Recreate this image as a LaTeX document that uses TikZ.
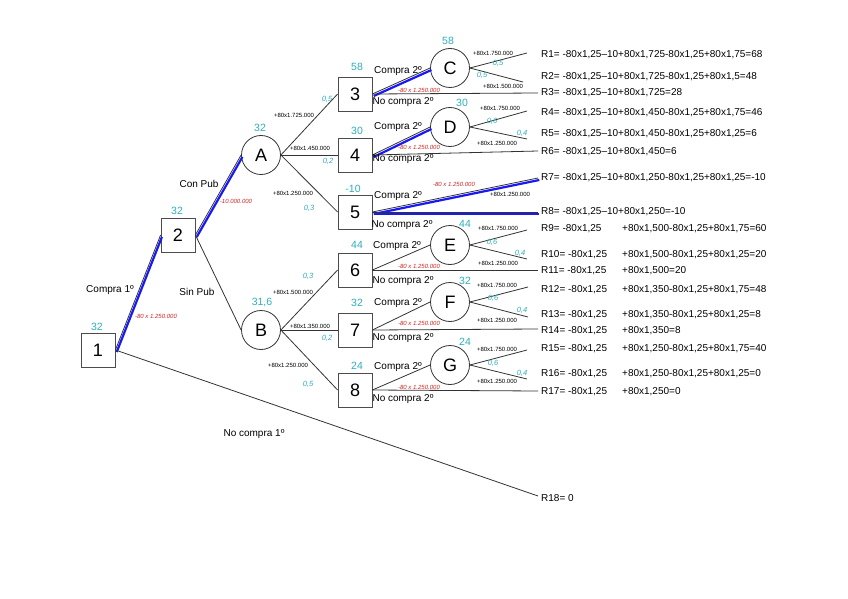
\documentclass[tikz,border=0pt]{standalone}
\usepackage{fontspec}
\setmainfont{Liberation Sans}
\usepackage{tikz}
\definecolor{tealc}{RGB}{45,175,185}
\definecolor{costred}{RGB}{205,35,35}
\definecolor{optblue}{RGB}{25,25,245}
\newcommand{\rsplit}[2]{\makebox[81pt][l]{#1}#2}

\begin{document}
\begin{tikzpicture}[x=1pt, y=-1pt,
  sq/.style={rectangle, draw=black!70, line width=0.8pt, minimum size=34pt, inner sep=0pt, font=\fontsize{18}{18}\selectfont},
  ch/.style={circle, draw=black!80, line width=0.8pt, minimum size=39pt, inner sep=0pt, font=\fontsize{18}{18}\selectfont},
  ln/.style={draw=black!80, line width=0.8pt},
  opt/.style={draw=optblue, line width=2.2pt, transform canvas={xshift=1.3pt, yshift=-2pt}},
  val/.style={text=tealc, inner sep=1pt, font=\fontsize{10.5}{12}\selectfont},
  prob/.style={text=tealc, inner sep=1pt, font=\fontsize{7.5}{8}\selectfont\itshape},
  pay/.style={inner sep=1pt, font=\fontsize{6}{7}\selectfont},
  cost/.style={text=costred, inner sep=1pt, font=\fontsize{6}{7}\selectfont\itshape},
  lbl/.style={inner sep=1pt, font=\fontsize{10}{11}\selectfont},
  res/.style={anchor=west, inner sep=1pt, font=\fontsize{10}{11}\selectfont}]
  \useasboundingbox (0,0) rectangle (848,599);

  % decision and chance nodes
  \node (b1) [sq] at (98,350) {1};
  \node (b2) [sq] at (178,235) {2};
  \node (A) [ch] at (261,155) {A};
  \node (B) [ch] at (261,330) {B};
  \node (b3) [sq] at (355,94) {3};
  \node (b4) [sq] at (355,155) {4};
  \node (b5) [sq] at (355,212) {5};
  \node (b6) [sq] at (355,270) {6};
  \node (b7) [sq] at (355,330) {7};
  \node (b8) [sq] at (355,390) {8};
  \node (C) [ch] at (450,68) {C};
  \node (D) [ch] at (450,127) {D};
  \node (E) [ch] at (450,245) {E};
  \node (F) [ch] at (450,302) {F};
  \node (G) [ch] at (450,365) {G};

  % expected values
  \node (v1) [val] at (97,327) {32};
  \node (v2) [val] at (177,211) {32};
  \node (vA) [val] at (260,128) {32};
  \node (vB) [val] at (262,303) {31,6};
  \node (v3) [val] at (357,67) {58};
  \node (v4) [val] at (357,131) {30};
  \node (v5) [val] at (353,189) {-10};
  \node (v6) [val] at (357,245) {44};
  \node (v7) [val] at (357,303) {32};
  \node (v8) [val] at (357,366) {24};
  \node (vC) [val] at (448,41) {58};
  \node (vD) [val] at (462,103) {30};
  \node (vE) [val] at (465,224) {44};
  \node (vF) [val] at (465,281) {32};
  \node (vG) [val] at (465,342) {24};

  % ends of the branches
  \coordinate (e1) at (527,53);
  \coordinate (e2) at (523,82);
  \coordinate (e3) at (538,93);
  \coordinate (e4) at (527,111);
  \coordinate (e5) at (527,139);
  \coordinate (e6) at (538,151);
  \coordinate (e7) at (538,178);
  \coordinate (e8) at (538,212);
  \coordinate (e9) at (527,230);
  \coordinate (e10) at (527,259);
  \coordinate (e11) at (538,270);
  \coordinate (e12) at (528,287);
  \coordinate (e13) at (528,317);
  \coordinate (e14) at (538,329);
  \coordinate (e15) at (527,350);
  \coordinate (e16) at (527,379);
  \coordinate (e17) at (538,391);
  \coordinate (e18) at (538,496);

  % results
  \node (r1) [res] at (540,55) {R1= -80x1,25–10+80x1,725-80x1,25+80x1,75=68};
  \node (r2) [res] at (540,77) {R2= -80x1,25–10+80x1,725-80x1,25+80x1,5=48};
  \node (r3) [res] at (540,93) {R3= -80x1,25–10+80x1,725=28};
  \node (r4) [res] at (540,113) {R4= -80x1,25–10+80x1,450-80x1,25+80x1,75=46};
  \node (r5) [res] at (540,134) {R5= -80x1,25–10+80x1,450-80x1,25+80x1,25=6};
  \node (r6) [res] at (540,152) {R6= -80x1,25–10+80x1,450=6};
  \node (r7) [res] at (540,178) {R7= -80x1,25–10+80x1,250-80x1,25+80x1,25=-10};
  \node (r8) [res] at (540,212) {R8= -80x1,25–10+80x1,250=-10};
  \node (r9) [res] at (540,229) {\rsplit{R9= -80x1,25}{+80x1,500-80x1,25+80x1,75=60}};
  \node (r10) [res] at (540,255) {\rsplit{R10= -80x1,25}{+80x1,500-80x1,25+80x1,25=20}};
  \node (r11) [res] at (540,271) {\rsplit{R11= -80x1,25}{+80x1,500=20}};
  \node (r12) [res] at (540,290) {\rsplit{R12= -80x1,25}{+80x1,350-80x1,25+80x1,75=48}};
  \node (r13) [res] at (540,315) {\rsplit{R13= -80x1,25}{+80x1,350-80x1,25+80x1,25=8}};
  \node (r14) [res] at (540,331) {\rsplit{R14= -80x1,25}{+80x1,350=8}};
  \node (r15) [res] at (540,349) {\rsplit{R15= -80x1,25}{+80x1,250-80x1,25+80x1,75=40}};
  \node (r16) [res] at (540,374) {\rsplit{R16= -80x1,25}{+80x1,250-80x1,25+80x1,25=0}};
  \node (r17) [res] at (540,392) {\rsplit{R17= -80x1,25}{+80x1,250=0}};
  \node (r18) [res] at (540,498) {R18= 0};

  % first decision
  \draw[ln] (b1.east) -- (b2.west);
  \draw[opt] (b1.east) -- (b2.west);
  \draw[ln] (b1.east) -- (e18);
  \node (t1) [lbl] at (110,290) {Compra 1º};
  \node (c1) [cost] at (156,316) {-80 x 1.250.000};
  \node (t2) [lbl] at (254,434) {No compra 1º};

  % publicity
  \draw[ln] (b2.east) -- (A.west);
  \draw[opt] (b2.east) -- (A.west);
  \draw[ln] (b2.east) -- (B.west);
  \node (t3) [lbl] at (199,184) {Con Pub};
  \node (c2) [cost] at (236,201) {-10.000.000};
  \node (t4) [lbl] at (197,292) {Sin Pub};

  % demand with publicity
  \draw[ln] (A.east) -- (b3.west);
  \draw[ln] (A.east) -- (b4.west);
  \draw[ln] (A.east) -- (b5.west);
  \node (pa1) [pay] at (294,115) {+80x1.725.000};
  \node (qa1) [prob] at (327,99) {0,5};
  \node (pa2) [pay] at (310,148) {+80x1.450.000};
  \node (qa2) [prob] at (328,161) {0,2};
  \node (pa3) [pay] at (293,193) {+80x1.250.000};
  \node (qa3) [prob] at (309,208) {0,3};

  % demand without publicity
  \draw[ln] (B.east) -- (b6.west);
  \draw[ln] (B.east) -- (b7.west);
  \draw[ln] (B.east) -- (b8.west);
  \node (pb1) [pay] at (293,292) {+80x1.500.000};
  \node (qb1) [prob] at (308,276) {0,3};
  \node (pb2) [pay] at (310,326) {+80x1.350.000};
  \node (qb2) [prob] at (327,338) {0,2};
  \node (pb3) [pay] at (288,365) {+80x1.250.000};
  \node (qb3) [prob] at (308,384) {0,5};

  % second decisions
  \draw[ln] (b3.east) -- (C.west);
  \draw[opt] (b3.east) -- (C.west);
  \draw[ln] (b3.east) -- (e3);
  \draw[ln] (b4.east) -- (D.west);
  \draw[opt] (b4.east) -- (D.west);
  \draw[ln] (b4.east) -- (e6);
  \draw[ln] (b5.east) -- (e7);
  \draw[opt] (b5.east) -- (e7);
  \draw[ln] (b5.east) -- (e8);
  \draw[opt] (b5.east) -- (e8);
  \draw[ln] (b6.east) -- (E.west);
  \draw[ln] (b6.east) -- (e11);
  \draw[ln] (b7.east) -- (F.west);
  \draw[ln] (b7.east) -- (e14);
  \draw[ln] (b8.east) -- (G.west);
  \draw[ln] (b8.east) -- (e17);
  \node (s3) [lbl] at (398,71) {Compra 2º};
  \node (n3) [lbl] at (403,102) {No compra 2º};
  \node (c3) [cost] at (419,90) {-80 x 1.250.000};
  \node (s4) [lbl] at (398,127) {Compra 2º};
  \node (n4) [lbl] at (403,159) {No compra 2º};
  \node (c4) [cost] at (419,147) {-80 x 1.250.000};
  \node (s5) [lbl] at (398,196) {Compra 2º};
  \node (n5) [lbl] at (402,225) {No compra 2º};
  \node (c5) [cost] at (454,184) {-80 x 1.250.000};
  \node (p5) [pay] at (510,194) {+80x1.250.000};
  \node (s6) [lbl] at (397,246) {Compra 2º};
  \node (n6) [lbl] at (403,281) {No compra 2º};
  \node (c6) [cost] at (419,266) {-80 x 1.250.000};
  \node (s7) [lbl] at (398,303) {Compra 2º};
  \node (n7) [lbl] at (403,338) {No compra 2º};
  \node (c7) [cost] at (419,323) {-80 x 1.250.000};
  \node (s8) [lbl] at (398,367) {Compra 2º};
  \node (n8) [lbl] at (403,399) {No compra 2º};
  \node (c8) [cost] at (419,387) {-80 x 1.250.000};

  % second demand
  \draw[ln] (C.east) -- (e1);
  \draw[ln] (C.east) -- (e2);
  \draw[ln] (D.east) -- (e4);
  \draw[ln] (D.east) -- (e5);
  \draw[ln] (E.east) -- (e9);
  \draw[ln] (E.east) -- (e10);
  \draw[ln] (F.east) -- (e12);
  \draw[ln] (F.east) -- (e13);
  \draw[ln] (G.east) -- (e15);
  \draw[ln] (G.east) -- (e16);
  \node (pc1) [pay] at (493,53) {+80x1.750.000};
  \node (qc1) [prob] at (498,63) {0,5};
  \node (qc2) [prob] at (482,75) {0,5};
  \node (pc2) [pay] at (503,86) {+80x1.500.000};
  \node (pd1) [pay] at (500,108) {+80x1.750.000};
  \node (qd1) [prob] at (492,121) {0,6};
  \node (qd2) [prob] at (522,133) {0,4};
  \node (pd2) [pay] at (497,143) {+80x1.250.000};
  \node (pe1) [pay] at (498,228) {+80x1.750.000};
  \node (qe1) [prob] at (492,242) {0,6};
  \node (qe2) [prob] at (520,253) {0,4};
  \node (pe2) [pay] at (498,263) {+80x1.250.000};
  \node (pf1) [pay] at (497,285) {+80x1.750.000};
  \node (qf1) [prob] at (493,298) {0,6};
  \node (qf2) [prob] at (522,310) {0,4};
  \node (pf2) [pay] at (497,320) {+80x1.250.000};
  \node (pg1) [pay] at (497,349) {+80x1.750.000};
  \node (qg1) [prob] at (493,363) {0,6};
  \node (qg2) [prob] at (522,373) {0,4};
  \node (pg2) [pay] at (497,381) {+80x1.250.000};
\end{tikzpicture}
\end{document}
